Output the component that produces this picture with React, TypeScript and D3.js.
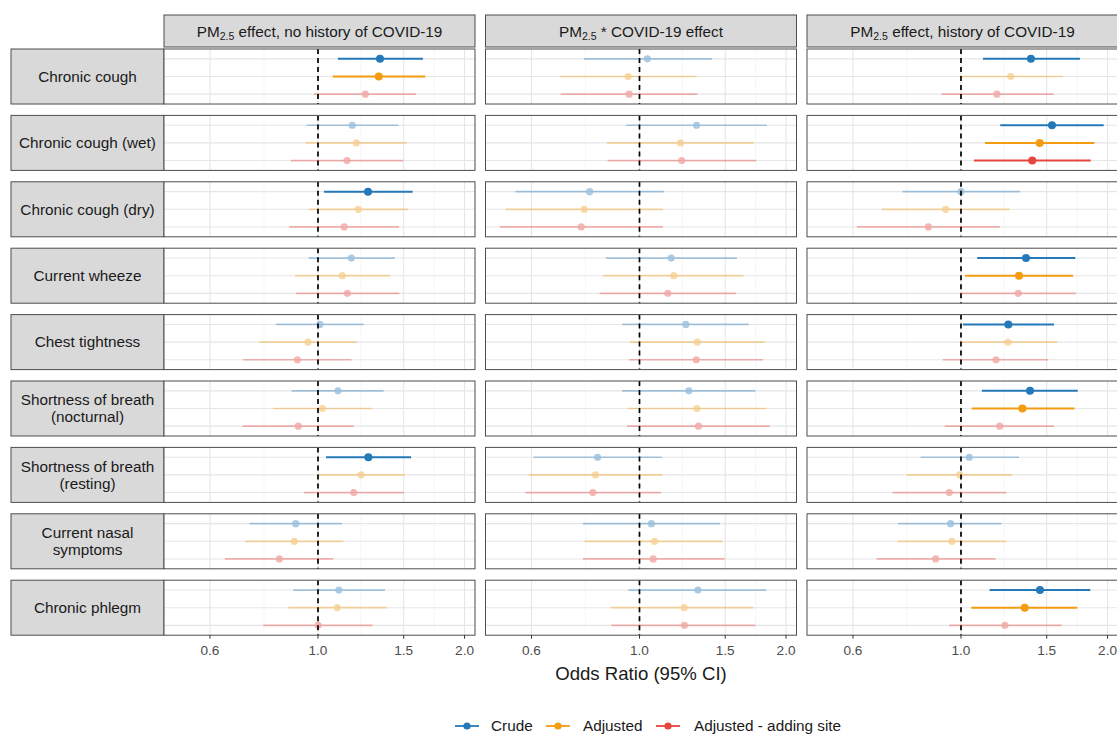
import React from "react";
import * as d3 from "d3";

const outcomes = [
  ["Chronic cough"],
  ["Chronic cough (wet)"],
  ["Chronic cough (dry)"],
  ["Current wheeze"],
  ["Chest tightness"],
  ["Shortness of breath", "(nocturnal)"],
  ["Shortness of breath", "(resting)"],
  ["Current nasal", "symptoms"],
  ["Chronic phlegm"],
];

const panelTitles = [
  { pre: "PM", sub: "2.5", post: " effect, no history of COVID-19" },
  { pre: "PM", sub: "2.5", post: " * COVID-19 effect" },
  { pre: "PM", sub: "2.5", post: " effect, history of COVID-19" },
];

const methods = ["Crude", "Adjusted", "Adjusted - adding site"];
const methodColors = ["#2479b9", "#f39c12", "#e8453c"];

const xTicks = [0.6, 1.0, 1.5, 2.0];
const xMinor = [0.7746, 1.2247, 1.7321];

// [estimate, lower, upper] per outcome
const noHistCrude = [
  [1.341, 1.099, 1.643], [1.176, 0.948, 1.462], [1.267, 1.029, 1.565],
  [1.171, 0.957, 1.439], [1.009, 0.82, 1.241], [1.099, 0.882, 1.364],
  [1.269, 1.039, 1.553], [0.9, 0.723, 1.12], [1.104, 0.889, 1.373],
];
const noHistAdj = [
  [1.333, 1.072, 1.661], [1.199, 0.943, 1.521], [1.21, 0.957, 1.533],
  [1.122, 0.897, 1.406], [0.954, 0.758, 1.201], [1.021, 0.809, 1.289],
  [1.226, 0.995, 1.509], [0.894, 0.708, 1.127], [1.095, 0.869, 1.384],
];
const noHistSite = [
  [1.251, 0.981, 1.59], [1.147, 0.88, 1.497], [1.132, 0.873, 1.467],
  [1.149, 0.901, 1.469], [0.907, 0.702, 1.171], [0.911, 0.7, 1.184],
  [1.184, 0.936, 1.502], [0.833, 0.644, 1.075], [1.001, 0.772, 1.295],
];
const interCrude = [
  [1.038, 0.769, 1.409], [1.31, 0.939, 1.826], [0.79, 0.556, 1.122],
  [1.162, 0.853, 1.585], [1.245, 0.921, 1.677], [1.263, 0.921, 1.731],
  [0.82, 0.606, 1.111], [1.058, 0.765, 1.462], [1.318, 0.949, 1.822],
];
const interAdj = [
  [0.948, 0.688, 1.31], [1.214, 0.857, 1.717], [0.77, 0.531, 1.117],
  [1.176, 0.843, 1.636], [1.314, 0.957, 1.807], [1.312, 0.946, 1.822],
  [0.812, 0.592, 1.113], [1.074, 0.771, 1.482], [1.235, 0.872, 1.714],
];
const interSite = [
  [0.952, 0.689, 1.315], [1.221, 0.86, 1.737], [0.759, 0.516, 1.117],
  [1.143, 0.828, 1.58], [1.308, 0.951, 1.794], [1.322, 0.943, 1.851],
  [0.802, 0.583, 1.107], [1.067, 0.765, 1.495], [1.237, 0.875, 1.731],
];
const histCrude = [
  [1.392, 1.11, 1.755], [1.538, 1.204, 1.964], [1.0, 0.758, 1.322],
  [1.36, 1.08, 1.717], [1.251, 1.009, 1.553], [1.386, 1.104, 1.737],
  [1.04, 0.826, 1.316], [0.952, 0.742, 1.21], [1.453, 1.145, 1.843],
];
const histAdj = [
  [1.265, 0.995, 1.618], [1.451, 1.12, 1.879], [0.93, 0.688, 1.259],
  [1.316, 1.019, 1.699], [1.249, 0.994, 1.577], [1.337, 1.052, 1.71],
  [0.994, 0.774, 1.275], [0.958, 0.74, 1.239], [1.352, 1.05, 1.733],
];
const histSite = [
  [1.185, 0.912, 1.548], [1.401, 1.063, 1.847], [0.857, 0.611, 1.201],
  [1.311, 0.997, 1.72], [1.18, 0.918, 1.511], [1.201, 0.926, 1.553],
  [0.946, 0.723, 1.239], [0.887, 0.671, 1.178], [1.231, 0.945, 1.61],
];

const panelData = [
  [noHistCrude, noHistAdj, noHistSite],
  [interCrude, interAdj, interSite],
  [histCrude, histAdj, histSite],
];

const FONT = "'Liberation Sans', Arial, Helvetica, sans-serif";

export default function App() {
  const W = 1117;
  const H = 734;
  const stripX0 = 11;
  const panelX0 = 164;
  const panelW = 311;
  const colPitch = 321.5;
  const headerY0 = 15;
  const headerH = 32;
  const rowY0 = 49;
  const rowH = 55;
  const rowPitch = 66.4;
  const axisBottom = rowY0 + 8 * rowPitch + rowH;

  const x = d3.scaleLog().domain([0.4827, 2.1015]).range([0, panelW]);
  const y = d3.scalePoint<string>().domain(methods).range([0, rowH]).padding(0.56);

  const border = "#4d4d4d";

  return (
    <svg
      width={W}
      height={H}
      style={{ position: "absolute", left: 0, top: 0, background: "#fff" }}
      fontFamily={FONT}
    >
      <rect x={0} y={0} width={W} height={H} fill="#fff" />
      {/* column headers */}
      {panelTitles.map((t, c) => {
        const px = panelX0 + c * colPitch;
        return (
          <g key={"h" + c}>
            <rect x={px} y={headerY0} width={panelW} height={headerH} fill="#d9d9d9" stroke={border} strokeWidth={1} />
            <text x={px + panelW / 2} y={headerY0 + headerH / 2 + 5.5} textAnchor="middle" fontSize={15.3} fill="#1a1a1a">
              <tspan>{t.pre}</tspan>
              <tspan fontSize={10.5} dy={3.5}>{t.sub}</tspan>
              <tspan dy={-3.5}>{t.post}</tspan>
            </text>
          </g>
        );
      })}
      {/* row strips */}
      {outcomes.map((lines, r) => {
        const py = rowY0 + r * rowPitch;
        const lh = 16.8;
        return (
          <g key={"s" + r}>
            <rect x={stripX0} y={py} width={panelX0 - stripX0} height={rowH} fill="#d9d9d9" stroke={border} strokeWidth={1} />
            {lines.map((ln, i) => (
              <text
                key={i}
                x={(stripX0 + panelX0) / 2}
                y={py + rowH / 2 + 5.3 + (i - (lines.length - 1) / 2) * lh}
                textAnchor="middle"
                fontSize={15.3}
                fill="#1a1a1a"
              >
                {ln}
              </text>
            ))}
          </g>
        );
      })}
      {/* panels */}
      {panelData.map((series, c) => {
        const px = panelX0 + c * colPitch;
        return (
          <g key={"c" + c}>
            {outcomes.map((_, r) => {
              const py = rowY0 + r * rowPitch;
              return (
                <g key={"p" + r} transform={`translate(${px},${py})`}>
                  <rect x={0} y={0} width={panelW} height={rowH} fill="#fff" />
                  {xMinor.map((v) => (
                    <line key={"mn" + v} x1={x(v)} x2={x(v)} y1={0} y2={rowH} stroke="#f2f2f2" strokeWidth={0.7} />
                  ))}
                  {xTicks.map((v) => (
                    <line key={"mj" + v} x1={x(v)} x2={x(v)} y1={0} y2={rowH} stroke="#e6e6e6" strokeWidth={1.1} />
                  ))}
                  {methods.map((m) => (
                    <line key={"hg" + m} x1={0} x2={panelW} y1={y(m)} y2={y(m)} stroke="#e6e6e6" strokeWidth={1.1} />
                  ))}
                  {methods.map((m, k) => {
                    const [est, lo, hi] = series[k][r];
                    const sig = lo > 1 || hi < 1;
                    const op = sig ? 1 : 0.38;
                    const yy = y(m) as number;
                    return (
                      <g key={"d" + m} opacity={op}>
                        <line x1={x(lo)} x2={x(hi)} y1={yy} y2={yy} stroke={methodColors[k]} strokeWidth={sig ? 2 : 1.7} />
                        <circle cx={x(est)} cy={yy} r={sig ? 4 : 3.6} fill={methodColors[k]} />
                      </g>
                    );
                  })}
                  <line x1={x(1)} x2={x(1)} y1={0} y2={rowH} stroke="#000" strokeWidth={1.7} strokeDasharray="5,4" />
                  <rect x={0} y={0} width={panelW} height={rowH} fill="none" stroke={border} strokeWidth={1} />
                </g>
              );
            })}
            {/* x axis */}
            {xTicks.map((v) => (
              <g key={"t" + v} transform={`translate(${px + x(v)},${axisBottom})`}>
                <line y1={0} y2={3.5} stroke="#333" strokeWidth={1} />
                <text y={19.5} textAnchor="middle" fontSize={13.6} fill="#4d4d4d">
                  {d3.format(".1f")(v)}
                </text>
              </g>
            ))}
          </g>
        );
      })}
      <text x={panelX0 + (2 * colPitch + panelW) / 2} y={679.5} textAnchor="middle" fontSize={18.6} fill="#1a1a1a">
        Odds Ratio (95% CI)
      </text>
      {/* legend */}
      {(() => {
        const items = [
          { x: 455, tx: 491 },
          { x: 546, tx: 583 },
          { x: 656, tx: 694 },
        ];
        const ly = 726;
        return methods.map((m, k) => (
          <g key={"l" + m}>
            <line x1={items[k].x} x2={items[k].x + 24} y1={ly} y2={ly} stroke={methodColors[k]} strokeWidth={1.8} />
            <circle cx={items[k].x + 12} cy={ly} r={3.6} fill={methodColors[k]} />
            <text x={items[k].tx} y={ly + 5.3} fontSize={15.3} fill="#1a1a1a">
              {m}
            </text>
          </g>
        ));
      })()}
    </svg>
  );
}
